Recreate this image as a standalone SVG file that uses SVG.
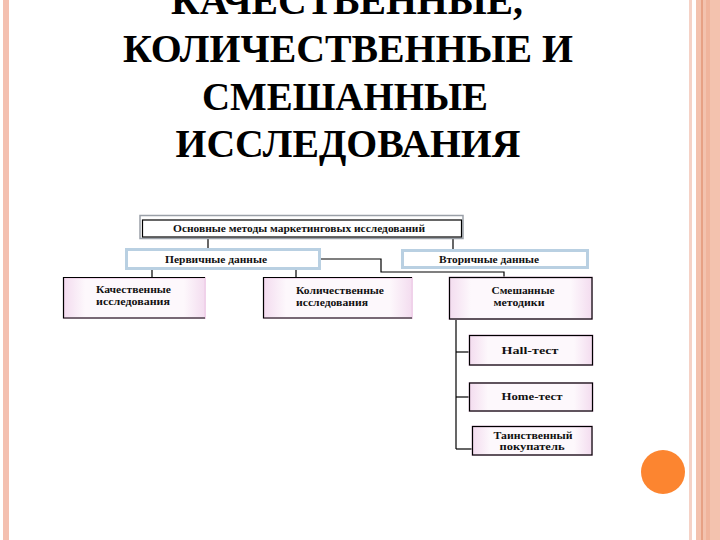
<svg xmlns="http://www.w3.org/2000/svg" width="720" height="540" viewBox="0 0 720 540">
<defs>
<linearGradient id="pk" x1="0" y1="0" x2="1" y2="0">
<stop offset="0" stop-color="#f3dcef"/><stop offset="0.15" stop-color="#fdf8fc"/><stop offset="0.85" stop-color="#fdf8fc"/><stop offset="1" stop-color="#f3dcef"/>
</linearGradient>
<style>
.t{font-family:"Liberation Serif","Times New Roman",serif;font-weight:bold;fill:#111}
.title{font-family:"Liberation Serif","Times New Roman",serif;font-weight:bold;font-size:41px;fill:#000;text-anchor:middle}
.s{font-size:11px}
.c{text-anchor:middle}
.ln{stroke:#000;stroke-width:1.2;fill:none}
.pb{fill:url(#pk);stroke:#f0d2ea;stroke-width:2}
.bb{fill:#fff;stroke:#b9d0e2;stroke-width:3}
</style>
</defs>
<rect width="720" height="540" fill="#fff"/>
<g id="borders">
<rect x="3" y="0" width="6" height="540" fill="#f4c0b0"/>
<rect x="689" y="0" width="3" height="540" fill="#f5d2c6"/>
<rect x="696" y="0" width="24" height="540" fill="#f3c2ae"/>
<rect x="706" y="0" width="4" height="540" fill="#f0b49c"/>
<line x1="702" y1="0" x2="702" y2="540" stroke="#e08a68" stroke-width="1.2"/>
<circle cx="663" cy="472" r="22" fill="#fc8530"/>
</g>
<g id="title">
<text class="title" x="347" y="14" textLength="352" lengthAdjust="spacingAndGlyphs">КАЧЕСТВЕННЫЕ,</text>
<text class="title" x="348" y="62" textLength="450" lengthAdjust="spacingAndGlyphs">КОЛИЧЕСТВЕННЫЕ И</text>
<text class="title" x="345" y="110" textLength="286" lengthAdjust="spacingAndGlyphs">СМЕШАННЫЕ</text>
<text class="title" x="348" y="157" textLength="345" lengthAdjust="spacingAndGlyphs">ИССЛЕДОВАНИЯ</text>
</g>
<g id="connectors" class="ln">
<line x1="208" y1="238" x2="208" y2="249"/>
<line x1="453" y1="238" x2="453" y2="249"/>
<polyline points="320,259 381,259 381,272 504,272 504,278"/>
<line x1="152" y1="269" x2="152" y2="278"/>
<line x1="296" y1="269" x2="296" y2="278"/>
<line x1="456" y1="319" x2="456" y2="449"/>
<line x1="456" y1="352" x2="470" y2="352"/>
<line x1="456" y1="397" x2="470" y2="397"/>
<line x1="456" y1="449" x2="472" y2="449"/>
</g>
<g id="n-main">
<rect x="140" y="215.5" width="323" height="23" fill="#fff" stroke="#9aa0a8" stroke-width="1.5"/>
<rect x="142.5" y="220" width="319" height="17" fill="#fff" stroke="#000" stroke-width="1.2"/>
<text class="t s c" x="299" y="232" textLength="252" lengthAdjust="spacingAndGlyphs">Основные методы маркетинговых исследований</text>
</g>
<g id="n-primary">
<rect x="126.5" y="249.5" width="193" height="19" class="bb"/>
<text class="t s c" x="216" y="262.5" textLength="102" lengthAdjust="spacingAndGlyphs">Первичные данные</text>
</g>
<g id="n-secondary">
<rect x="402.5" y="250.5" width="185" height="17" class="bb"/>
<text class="t s c" x="489" y="262.5" textLength="100" lengthAdjust="spacingAndGlyphs">Вторичные данные</text>
</g>
<g id="n-qual">
<rect x="64" y="278" width="141" height="40" class="pb"/>
<polyline class="ln" points="205,277.5 63.5,277.5 63.5,318 205,318"/>
<text class="t s" x="96" y="293" textLength="75" lengthAdjust="spacingAndGlyphs">Качественные</text>
<text class="t s" x="96" y="305" textLength="74" lengthAdjust="spacingAndGlyphs">исследования</text>
</g>
<g id="n-quant">
<rect x="264" y="278" width="148" height="40" class="pb"/>
<polyline class="ln" points="412,277.5 263.5,277.5 263.5,318 412,318"/>
<text class="t s" x="296" y="294" textLength="88" lengthAdjust="spacingAndGlyphs">Количественные</text>
<text class="t s" x="296" y="306" textLength="72" lengthAdjust="spacingAndGlyphs">исследования</text>
</g>
<g id="n-mixed">
<rect x="449.5" y="277.5" width="142.5" height="41.5" class="pb"/>
<rect x="449.5" y="277.5" width="142.5" height="41.5" fill="none" stroke="#000" stroke-width="1.2"/>
<text class="t s c" x="523" y="294" textLength="63" lengthAdjust="spacingAndGlyphs">Смешанные</text>
<text class="t s c" x="519" y="306" textLength="51" lengthAdjust="spacingAndGlyphs">методики</text>
</g>
<g id="n-hall">
<rect x="469.5" y="335.5" width="123" height="29.5" class="pb"/>
<rect x="469.5" y="335.5" width="123" height="29.5" fill="none" stroke="#000" stroke-width="1.2"/>
<text class="t s c" x="530" y="354" textLength="57" lengthAdjust="spacingAndGlyphs">Hall-тест</text>
</g>
<g id="n-home">
<rect x="469.5" y="383" width="123" height="28" class="pb"/>
<rect x="469.5" y="383" width="123" height="28" fill="none" stroke="#000" stroke-width="1.2"/>
<text class="t s c" x="532" y="400" textLength="61" lengthAdjust="spacingAndGlyphs">Home-тест</text>
</g>
<g id="n-mystery">
<rect x="472.5" y="426.5" width="119.5" height="28.5" class="pb"/>
<rect x="472.5" y="426.5" width="119.5" height="28.5" fill="none" stroke="#000" stroke-width="1.2"/>
<text class="t s c" x="533" y="439" textLength="79" lengthAdjust="spacingAndGlyphs">Таинственный</text>
<text class="t s c" x="532" y="450" textLength="65" lengthAdjust="spacingAndGlyphs">покупатель</text>
</g>
</svg>
